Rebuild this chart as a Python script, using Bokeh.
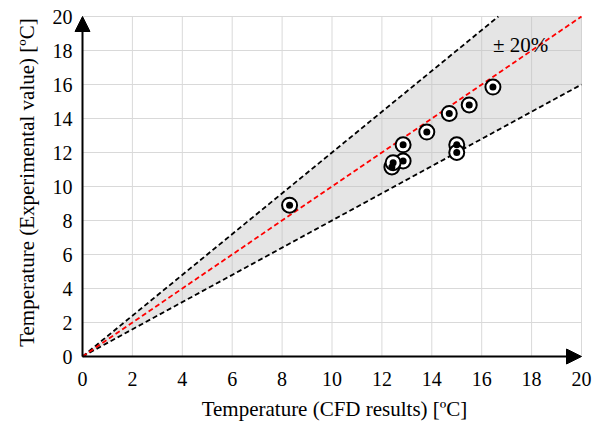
from bokeh.plotting import figure
from bokeh.models import Range1d, Arrow, NormalHead, Label
from bokeh.core.properties import value
from bokeh.embed import file_html
from bokeh.resources import INLINE

# Data
cfd = [12.85, 8.3, 12.4, 12.45, 12.85, 13.8, 14.7, 15.5, 16.45, 15.0, 15.0]
exp = [11.5, 8.9, 11.15, 11.4, 12.45, 13.2, 14.3, 14.8, 15.85, 12.45, 12.0]

ticks = [0, 2, 4, 6, 8, 10, 12, 14, 16, 18, 20]
tick_labels = [str(t) for t in ticks]
band = 0.2  # +/- 20 %
limit = 20
x_title = "Temperature (CFD results) [ºC]"
y_title = "Temperature (Experimental value) [ºC]"
band_text = "± 20%"

FONT = "Liberation Serif, Times New Roman, serif"

# layout (pixels): where the 0..limit data box sits in the 602x423 canvas
W, H = 602, 423
LEFT, RIGHT, TOP, BOTTOM = 82, 21, 16, 67
sx = (W - LEFT - RIGHT) / limit
sy = (H - TOP - BOTTOM) / limit

p = figure(width=W, height=H, output_backend="svg", toolbar_location=None,
           x_axis_location=None, y_axis_location=None,
           x_range=Range1d(-LEFT / sx, limit + RIGHT / sx),
           y_range=Range1d(-BOTTOM / sy, limit + TOP / sy),
           min_border=0)
p.outline_line_color = None
p.background_fill_color = "white"
p.border_fill_color = "white"
p.xgrid.visible = False
p.ygrid.visible = False

# grid lines over the data box only
n = len(ticks)
p.segment(x0=ticks, y0=[0] * n, x1=ticks, y1=[limit] * n, line_color="#d9d9d9", line_width=1)
p.segment(x0=[0] * n, y0=ticks, x1=[limit] * n, y1=ticks, line_color="#d9d9d9", line_width=1)

# +/- 20% band
hi = 1 + band
lo = 1 - band
xs_band = [0, limit / hi, limit, limit]
ys_band = [0, limit, limit, limit * lo]
p.patch(xs_band, ys_band, fill_color="#bfbfbf", fill_alpha=0.4, line_color=None)

p.line([0, limit / hi], [0, limit], line_color="black", line_dash="5 3", line_width=1.8)
p.line([0, limit], [0, limit * lo], line_color="black", line_dash="5 3", line_width=1.8)
p.line([0, limit], [0, limit], line_color="red", line_dash="5 3", line_width=1.8)

# axis lines with arrows
p.add_layout(Arrow(x_start=0, y_start=0, x_end=limit, y_end=0, line_color="black", line_width=2,
                   end=NormalHead(size=15, fill_color="black", line_color="black")))
p.add_layout(Arrow(x_start=0, y_start=0, x_end=0, y_end=limit, line_color="black", line_width=2,
                   end=NormalHead(size=15, fill_color="black", line_color="black")))

# points
p.scatter(cfd, exp, marker="circle", size=15, fill_color="white", line_color="black", line_width=2)
p.scatter(cfd, exp, marker="circle", size=7, fill_color="black", line_color=None)

# tick labels
p.text(x=ticks, y=[-22 / sy] * n, text=tick_labels, text_font=value(FONT),
       text_font_size="20px", text_color="black", text_align="center", text_baseline="middle")
p.text(x=[-10 / sx] * n, y=ticks, text=tick_labels, text_font=value(FONT),
       text_font_size="20px", text_color="black", text_align="right", text_baseline="middle")

# axis titles
p.add_layout(Label(x=(334 - LEFT) / sx, y=-52 / sy, text=x_title, text_font=FONT,
                   text_font_size="21px", text_color="black", text_align="center",
                   text_baseline="middle"))
p.add_layout(Label(x=-56 / sx, y=(H - BOTTOM - 182) / sy, text=y_title, text_font=FONT,
                   text_font_size="21px", text_color="black", text_align="center",
                   text_baseline="middle", angle=90, angle_units="deg"))

p.add_layout(Label(x=16.45, y=18.3, text=band_text, text_font=FONT, text_font_size="21px",
                   text_color="black", text_baseline="middle", text_align="left"))

open("out.html", "w").write(file_html(p, INLINE))
